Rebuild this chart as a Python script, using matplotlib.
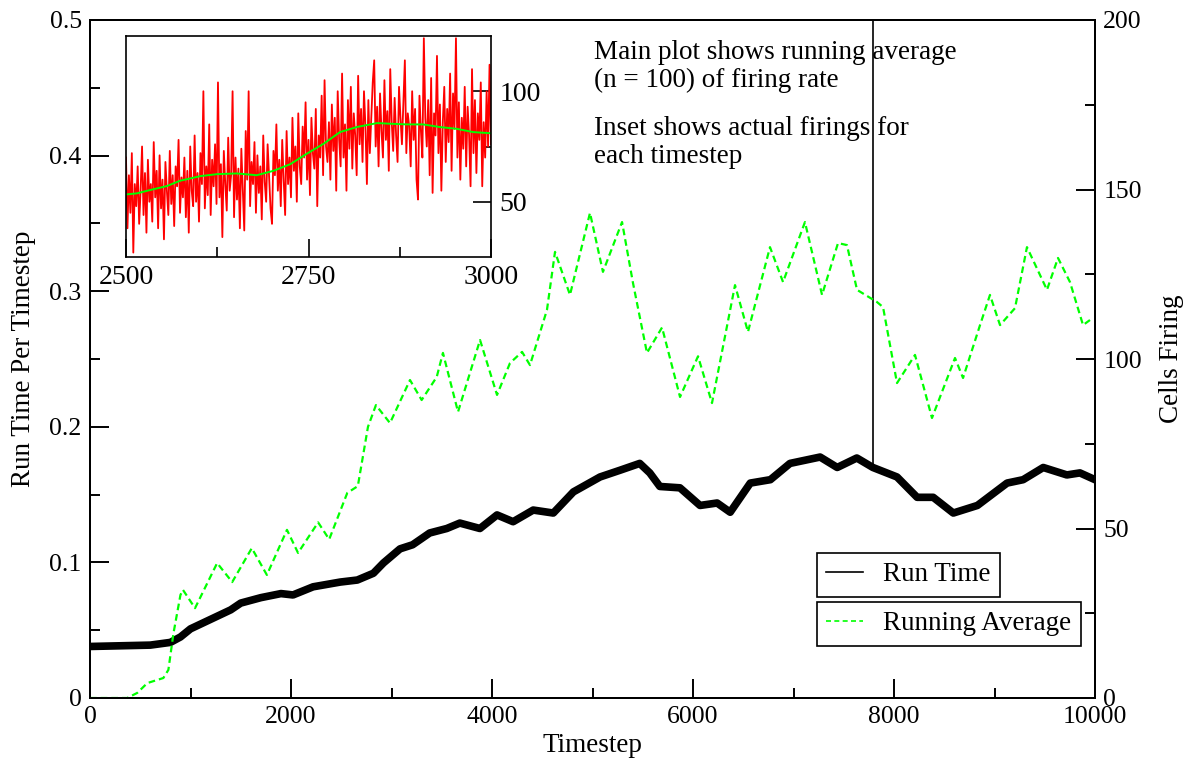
import matplotlib
matplotlib.use("Agg")
import matplotlib.pyplot as plt
from matplotlib.lines import Line2D
import numpy as np

plt.rcParams['font.family'] = ['Liberation Serif', 'DejaVu Serif']
plt.rcParams['axes.linewidth'] = 1.4

# run time per timestep (left axis)
run_t = [0, 300, 600, 800, 900, 1000, 1200, 1400, 1500, 1700, 1900, 2020, 2220,
         2490, 2660, 2820, 2920, 3085, 3210, 3380, 3550, 3680, 3880, 4050, 4210,
         4410, 4610, 4810, 5075, 5275, 5470, 5570, 5670, 5870, 6070, 6240, 6370,
         6570, 6770, 6965, 7265, 7435, 7630, 7790, 8030, 8230, 8390, 8590, 8830,
         9125, 9285, 9485, 9720, 9850, 10000]
run_time = [0.038, 0.0385, 0.039, 0.041, 0.045, 0.051, 0.058, 0.065, 0.070, 0.074,
            0.077, 0.076, 0.082, 0.0855, 0.087, 0.092, 0.0996, 0.110, 0.113, 0.1217,
            0.125, 0.129, 0.125, 0.135, 0.130, 0.1386, 0.1364, 0.152, 0.163, 0.168,
            0.173, 0.166, 0.156, 0.155, 0.142, 0.1438, 0.137, 0.1585, 0.161, 0.173,
            0.1777, 0.170, 0.177, 0.170, 0.163, 0.148, 0.148, 0.1364, 0.142, 0.1585,
            0.161, 0.170, 0.1645, 0.166, 0.161]

# running average (n = 100) of cells firing (right axis)
avg_t = [0, 370, 470, 570, 730, 780, 830, 900, 925, 1045, 1265, 1415, 1610, 1760,
         1960, 2070, 2270, 2380, 2560, 2665, 2766, 2845, 2985, 3184, 3300, 3450,
         3512, 3662, 3881, 4050, 4179, 4299, 4378, 4547, 4627, 4776, 4975, 5104,
         5294, 5403, 5542, 5692, 5871, 6050, 6189, 6418, 6547, 6766, 6896, 7114,
         7284, 7443, 7532, 7632, 7831, 7891, 8030, 8209, 8378, 8607, 8687, 8856,
         8955, 9055, 9204, 9323, 9522, 9632, 9751, 9881, 9950]
avg_cells = [0, 0, 1.5, 4.4, 5.9, 8.3, 19, 30.4, 31.9, 26.5, 39.8, 34.2, 44.2, 36.3,
             49.6, 42.8, 51.8, 46.8, 60.5, 62.5, 80, 86.4, 81.1, 93.8, 87.9, 94.7,
             101.8, 84.4, 105.6, 89.4, 98.8, 102.1, 98.2, 114.5, 131.6, 118.9, 143.1,
             125.7, 140.4, 122.4, 101.8, 109.3, 88.8, 100.8, 87, 121.8, 108, 133,
             122.7, 140.4, 118.9, 134.2, 133.6, 120.4, 116.8, 115.3, 92.9, 101.2,
             82.6, 100.3, 94.4, 110, 118.9, 110, 115, 133, 120.4, 129.8, 122.7, 110,
             111.5]

# inset: cells firing for timesteps 2500..3000 (every 2nd step)
inset_t = np.arange(2500, 3001, 2)
inset_cells = [
    70, 38, 62, 45, 72, 27, 58, 48, 66, 40,
    55, 75, 44, 63, 36, 69, 50, 58, 41, 77,
    52, 64, 38, 71, 47, 60, 33, 68, 55, 44,
    73, 49, 62, 39, 66, 57, 78, 45, 61, 52,
    70, 43, 64, 36, 75, 55, 48, 80, 50, 63,
    41, 72, 58, 100, 47, 66, 53, 85, 44, 69,
    57, 76, 49, 104, 52, 67, 34, 73, 58, 46,
    79, 55, 62, 100, 43, 70, 51, 65, 38, 74,
    56, 37, 82, 60, 100, 48, 68, 58, 77, 45,
    71, 54, 66, 42, 80, 59, 50, 76, 61, 47,
    40, 73, 62, 85, 55, 69, 48, 78, 60, 44,
    82, 58, 70, 52, 88, 64, 75, 50, 90, 66,
    58, 84, 70, 95, 60, 78, 53, 88, 72, 65,
    92, 48, 80, 70, 98, 62, 105, 75, 68, 86,
    60, 94, 73, 88, 55, 100, 78, 66, 108, 70,
    85, 55, 96, 74, 102, 65, 90, 80, 62, 107,
    76, 92, 68, 100, 84, 58, 96, 72, 88, 104,
    114, 75, 93, 66, 99, 82, 70, 105, 78, 91,
    64, 110, 86, 73, 97, 80, 68, 102, 88, 76,
    95, 114, 72, 90, 84, 66, 100, 78, 92, 60,
    51, 98, 82, 70, 124, 88, 75, 96, 62, 106,
    54, 90, 80, 116, 72, 94, 55, 86, 102, 68,
    92, 77, 108, 64, 99, 83, 124, 70, 95, 60,
    88, 74, 102, 66, 93, 80, 57, 110, 72, 96,
    63, 90, 78, 104, 57, 86, 70, 100, 75, 112,
    76]
inset_avg_t = [2500, 2515, 2533, 2556, 2574, 2602, 2625, 2652, 2679, 2702, 2725,
               2748, 2771, 2793, 2816, 2844, 2862, 2885, 2907, 2930, 2953, 2976, 3000]
inset_avg = [53.3, 53.8, 55.3, 57.1, 59.5, 61.6, 62.5, 62.8, 62, 64, 67, 71.8, 76.3,
             81.5, 83.8, 85.6, 85.3, 85, 85, 83.8, 83, 81.5, 81]

# marker line at the time step of interest
mark_t = 7790
mark_y = 0.170

GREEN = '#00ff00'
FS = 19.5

fig = plt.figure(figsize=(11.9, 7.6), dpi=100)
ax = fig.add_axes([90 / 1190, 1 - 698 / 760, 1005 / 1190, 678 / 760])
ax2 = ax.twinx()

ax.plot(run_t, run_time, color='black', lw=5.5, solid_joinstyle='round')
ax.vlines(mark_t, mark_y, 0.5, color='black', lw=1.2)
ax2.plot(avg_t, avg_cells, color=GREEN, lw=1.6, dashes=(3, 1.8))

ax.set_xlim(0, 10000)
ax.set_ylim(0, 0.5)
ax2.set_ylim(0, 200)
ax.set_xticks(np.arange(0, 10001, 2000))
ax.set_xticks(np.arange(1000, 10000, 2000), minor=True)
ax.set_yticks(np.arange(0, 0.51, 0.1))
ax.set_yticks(np.arange(0.05, 0.5, 0.1), minor=True)
ax.set_yticklabels(['0', '0.1', '0.2', '0.3', '0.4', '0.5'])
ax2.set_yticks(np.arange(0, 201, 50))
ax2.set_yticks(np.arange(25, 200, 50), minor=True)

for a in (ax, ax2):
    a.tick_params(which='major', direction='in', length=14, width=1.4, labelsize=18.5, pad=6)
    a.tick_params(which='minor', direction='in', length=7, width=1.4)
ax.tick_params(top=False, right=False, which='both')

ax.set_xlabel('Timestep', fontsize=FS, labelpad=3)
ax.set_ylabel('Run Time Per Timestep', fontsize=FS, labelpad=10)
ax2.set_ylabel('Cells Firing', fontsize=FS, labelpad=12)

fig.text(594 / 1190, 1 - 40 / 760, 'Main plot shows running average\n(n = 100) of firing rate',
         fontsize=FS, va='top', ha='left', linespacing=1.14)
fig.text(594 / 1190, 1 - 116 / 760, 'Inset shows actual firings for\neach timestep',
         fontsize=FS, va='top', ha='left', linespacing=1.14)

# legend entries in separate boxes
leg_style = dict(fontsize=FS, frameon=True, fancybox=False, edgecolor='black',
                 framealpha=1, borderaxespad=0, handlelength=1.35, handletextpad=0.75,
                 borderpad=0.35)
leg1 = fig.legend([Line2D([], [], color='black', lw=1.2)], ['Run Time'],
                  loc='upper left', bbox_to_anchor=(817 / 1190, 1 - 553 / 760), **leg_style)
leg2 = fig.legend([Line2D([], [], color=GREEN, lw=1.2, dashes=(3, 2))], ['Running Average'],
                  loc='upper left', bbox_to_anchor=(817 / 1190, 1 - 602 / 760), **leg_style)
for lg in (leg1, leg2):
    lg.get_frame().set_linewidth(1.2)

# inset
axi = fig.add_axes([126 / 1190, 1 - 257 / 760, 365 / 1190, 221 / 760])
axi.plot(inset_t, inset_cells, color='red', lw=1.3)
axi.plot(inset_avg_t, inset_avg, color=GREEN, lw=1.4)
axi.set_xlim(2500, 3000)
axi.set_ylim(25, 125)
axi.set_xticks([2500, 2750, 3000])
axi.set_xticks([2625, 2875], minor=True)
axi.set_yticks([50, 100])
axi.set_yticks([75], minor=True)
axi.yaxis.tick_right()
axi.tick_params(which='major', direction='in', length=13, width=1.2, labelsize=20, pad=6)
axi.tick_params(which='minor', direction='in', length=7, width=1.2)
for s in axi.spines.values():
    s.set_linewidth(1.2)

fig.savefig('out.png', dpi=100)
